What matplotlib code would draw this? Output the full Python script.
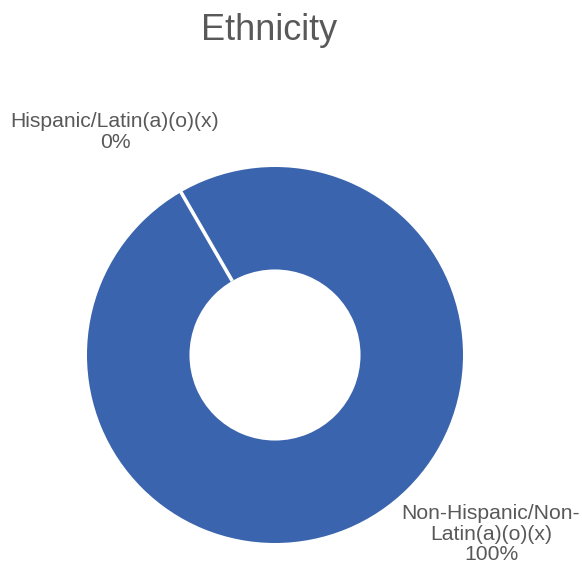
import matplotlib
matplotlib.use("Agg")
import numpy as np
import matplotlib.pyplot as plt

# data
categories = ["Hispanic/Latin(a)(o)(x)", "Non-Hispanic/Non-\nLatin(a)(o)(x)"]
shares = [0, 100]
colors = ["#3A64AD", "#3A64AD"]

plt.rcParams['font.family'] = ['Liberation Sans', 'DejaVu Sans']
txt_color = "#595959"

W, H = 582, 569
fig = plt.figure(figsize=(W / 100, H / 100), dpi=100)

# donut centre ~ (275, 355) px, radius ~ 188 px
cx, cy, r = 275, 355, 188
ax = fig.add_axes([(cx - r) / W, (H - cy - r) / H, 2 * r / W, 2 * r / H])
wedges, _ = ax.pie(shares, colors=colors, startangle=120, counterclock=False,
                   radius=1.0, wedgeprops=dict(width=0.545, edgecolor="none"))

# a full 360 wedge has no radial edge, so draw the slice border by hand
w0 = wedges[0]
ang = np.deg2rad(w0.theta1)
rr = np.array([w0.r - w0.width, w0.r + 0.01])
ax.plot(rr * np.cos(ang), rr * np.sin(ang), color="white", lw=2.6,
        solid_capstyle="butt")

ax.set_xlim(-1, 1)
ax.set_ylim(-1, 1)
ax.axis("off")

fig.text(269 / W, 1 - 40 / H, "Ethnicity", ha="center", va="baseline",
         fontsize=26, color=txt_color)

# data labels (name + percentage)
lbl_pos = [(115, 132), (491, 534)]
for name, val, (x, y) in zip(categories, shares, lbl_pos):
    fig.text(x / W, 1 - y / H, f"{name}\n{val}%", ha="center", va="center",
             fontsize=15.2, color=txt_color, linespacing=1.1)

fig.savefig("out.png", dpi=100)
